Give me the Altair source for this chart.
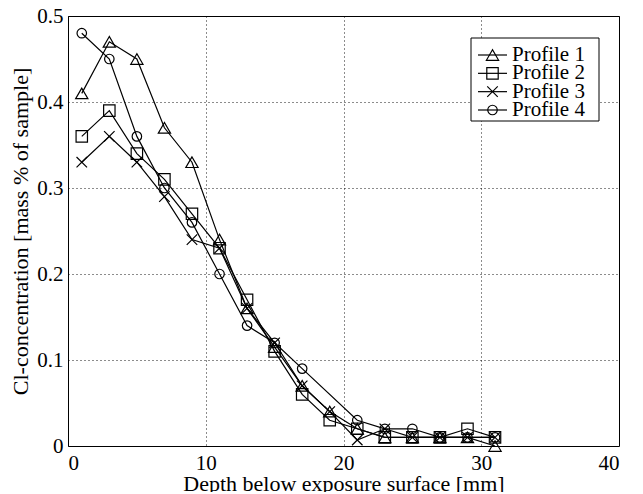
import altair as alt
import pandas as pd

depth = [1, 3, 5, 7, 9, 11, 13, 15, 17, 19, 21, 23, 25, 27, 29, 31]
profiles = ["Profile 1", "Profile 2", "Profile 3", "Profile 4"]
p1 = [0.41, 0.47, 0.45, 0.37, 0.33, 0.24, 0.16, 0.115, 0.07, 0.04, 0.02, 0.01, 0.01, 0.01, 0.01, 0.0]
p2 = [0.36, 0.39, 0.34, 0.31, 0.27, 0.23, 0.17, 0.11, 0.06, 0.03, 0.02, 0.01, 0.01, 0.01, 0.02, 0.01]
p3 = [0.33, 0.36, 0.33, 0.29, 0.24, 0.23, 0.16, 0.12, 0.07, 0.04, 0.007, 0.02, 0.01, 0.01, 0.01, 0.01]
p4 = [0.48, 0.45, 0.36, 0.30, 0.26, 0.20, 0.14, 0.12, 0.09, None, 0.03, 0.02, 0.02, 0.01, 0.01, 0.01]

x_ticks = [0, 10, 20, 30, 40]
y_ticks = [0, 0.1, 0.2, 0.3, 0.4, 0.5]

rows = []
for name, vals in zip(profiles, [p1, p2, p3, p4]):
    for d, v in zip(depth, vals):
        if v is not None:
            rows.append({"depth": d, "value": v, "profile": name})
df = pd.DataFrame(rows)
leg_df = pd.DataFrame({"profile": profiles})
box_df = pd.DataFrame({"k": [0]})

FONT = "Liberation Serif"
shape_scale = alt.Scale(
    domain=profiles,
    range=["triangle-up", "square", "M-1,-1L1,1M-1,1L1,-1", "circle"],
)
size_scale = alt.Scale(domain=profiles, range=[150, 90, 90, 130])

x_enc = alt.X(
    "depth:Q",
    scale=alt.Scale(domain=[0, 40], nice=False, zero=False),
    axis=alt.Axis(values=x_ticks, title="Depth below exposure surface [mm]",
                  labelPadding=6, titleY=44, titleBaseline="alphabetic", format="d"),
)
y_enc = alt.Y(
    "value:Q",
    scale=alt.Scale(domain=[0, 0.5], nice=False),
    axis=alt.Axis(values=y_ticks, title="Cl-concentration [mass % of sample]",
                  labelExpr="datum.value == 0 ? '0' : format(datum.value, '.1f')",
                  labelPadding=5, titleX=-41, titleBaseline="alphabetic"),
)

lines = alt.Chart(df).mark_line(color="black", strokeWidth=1.2).encode(
    x=x_enc, y=y_enc, detail="profile:N", order="depth:Q"
)
points = alt.Chart(df).mark_point(filled=False, color="black", strokeWidth=1.2, opacity=1).encode(
    x=x_enc, y=y_enc,
    shape=alt.Shape("profile:N", scale=shape_scale, legend=None),
    size=alt.Size("profile:N", scale=size_scale, legend=None),
)
main = alt.layer(lines, points)

leg_y = alt.Y("profile:N", scale=alt.Scale(type="point", domain=profiles, range=[39, 94], padding=0), axis=None)

leg_box = alt.Chart(box_df).mark_rect(fill="white", stroke="black", strokeWidth=1).encode(
    x=alt.value(403), x2=alt.value(531), y=alt.value(22), y2=alt.value(105)
)
leg_rule = alt.Chart(leg_df).mark_rule(color="black", strokeWidth=1.2).encode(
    x=alt.value(410), x2=alt.value(439), y=leg_y
)
leg_pts = alt.Chart(leg_df).mark_point(filled=False, color="black", strokeWidth=1.2, opacity=1).encode(
    x=alt.value(424.5), y=leg_y,
    shape=alt.Shape("profile:N", scale=shape_scale, legend=None),
    size=alt.Size("profile:N", scale=size_scale, legend=None),
)
leg_txt = alt.Chart(leg_df).mark_text(align="left", baseline="middle", font=FONT, fontSize=21, color="black").encode(
    x=alt.value(444), y=leg_y, text="profile:N"
)
legend = alt.layer(leg_rule, leg_pts, leg_txt)

chart = alt.layer(main, leg_box, legend).resolve_scale(
    y="independent"
).properties(
    width=551, height=430,
    autosize=alt.AutoSizeParams(type="none"),
    padding={"left": 60, "top": 8, "right": 14, "bottom": 46},
).configure_view(
    stroke="black", strokeWidth=1
).configure_axis(
    labelFont=FONT, titleFont=FONT, labelFontSize=21, titleFontSize=22,
    titleFontWeight="normal", labelColor="black", titleColor="black",
    grid=True, gridColor="black", gridDash=[1, 3], gridOpacity=0.9, gridWidth=1,
    domain=False, ticks=False,
)

chart.save("out.html", embed_options={"renderer": "svg", "actions": False})
